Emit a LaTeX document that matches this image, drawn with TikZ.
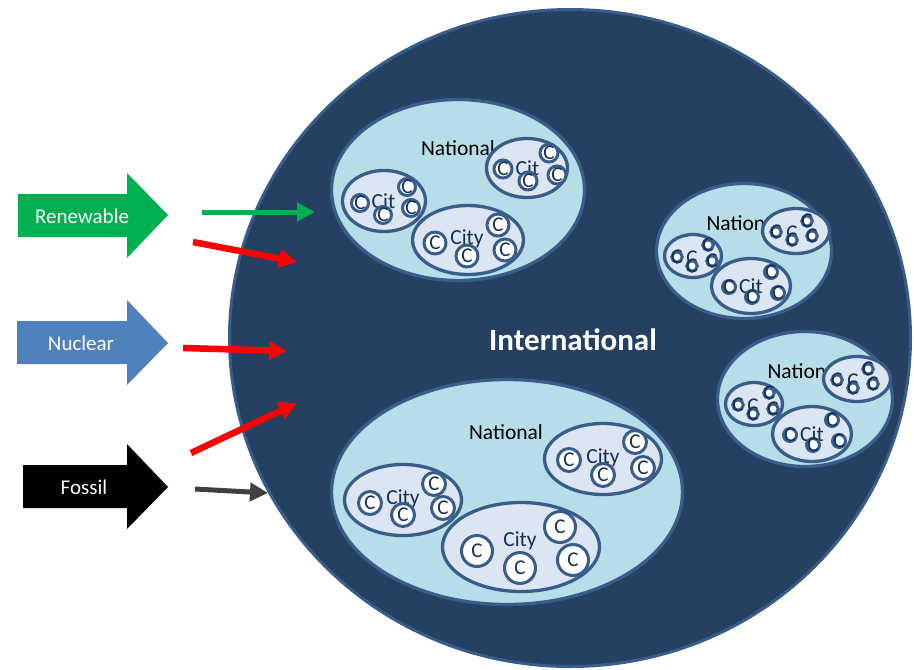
\documentclass[tikz,border=0pt]{standalone}
\usepackage{fontspec}
\setmainfont{Carlito}
\usetikzlibrary{shapes.geometric,arrows.meta}
\definecolor{bigfill}{RGB}{38,64,97}
\definecolor{bordc}{RGB}{56,93,138}
\definecolor{natfill}{RGB}{183,222,232}
\definecolor{cityfill}{RGB}{220,230,242}
\definecolor{navyt}{RGB}{20,48,86}
\definecolor{greenc}{RGB}{0,176,80}
\definecolor{nucc}{RGB}{79,129,189}
\definecolor{redc}{RGB}{255,0,0}
\definecolor{grayc}{RGB}{64,64,64}
\tikzset{
 intl/.style={ellipse, draw=bordc, fill=bigfill, line width=3pt, inner sep=0pt},
 natl/.style={ellipse, draw=bordc, fill=natfill, line width=3.3pt, inner sep=0pt},
 cityshape/.style={ellipse, draw=bordc, fill=cityfill, line width=3.3pt, inner sep=0pt},
 ccirc/.style={circle, draw=bordc, fill=white, line width=3pt, inner sep=0pt},
 ctxt/.style={inner sep=0pt, text=navyt, font=\fontsize{21}{25}\selectfont},
 natlbl/.style={anchor=base, inner sep=0pt, text=black, font=\fontsize{21.5}{25}\selectfont},
 citylbl/.style={anchor=base, inner sep=0pt, text=navyt, font=\fontsize{21.5}{25}\selectfont},
 blocklbl/.style={inner sep=0pt, text=white, font=\fontsize{21}{25}\selectfont},
 flow/.style={line width=5pt, -{Triangle[length=18pt,width=18pt]}},
}
\newcommand{\mkc}[4]{\node[ccirc, minimum size=#4pt] (#1) at (#2,#3) {}; \node[ctxt] (#1t) at (#1) {C};}
\newcommand{\smallnat}[1]{%
 \node[natl, minimum width=175pt, minimum height=135pt] (#1) at (744,251) {};
 \node[natlbl] (#1t) at (743.5,230) {National};
 \node[cityshape, minimum width=57pt, minimum height=43pt] (#1a) at (693,256) {};
 \node[ctxt] (#1at) at (692,258) {C};
 \mkc{#1a1}{677}{257}{10.5}\mkc{#1a2}{692}{266}{10.5}\mkc{#1a3}{708}{245}{10.5}\mkc{#1a4}{712}{261}{10.5}
 \node[cityshape, minimum width=67pt, minimum height=45pt] (#1b) at (796,231) {};
 \node[ctxt] (#1bt) at (792,233) {C};
 \mkc{#1b1}{776}{232}{10.5}\mkc{#1b2}{792}{240}{10.5}\mkc{#1b3}{807}{221}{10.5}\mkc{#1b4}{812}{236}{10.5}
 \node[cityshape, minimum width=79pt, minimum height=55pt] (#1c) at (751,286) {};
 \node[citylbl] (#1ct) at (751,293) {Cit};
 \mkc{#1c1}{729}{287}{13}\mkc{#1c2}{752}{297}{13}\mkc{#1c3}{771}{272}{13}\mkc{#1c4}{778}{293}{13}
}
\begin{document}
\begin{tikzpicture}[x=1pt,y=-1pt]
\useasboundingbox (0,0) rectangle (914,670);
% international
\node[intl, minimum width=681pt, minimum height=657pt] (intl) at (570,338) {};
\node[inner sep=0pt, text=white, font=\fontsize{31}{36}\selectfont\bfseries] (intlt) at (573,340) {International};
% national 1
\node[natl, minimum width=253pt, minimum height=181pt] (na) at (458,190) {};
\node[natlbl] (nat) at (458,155) {National};
\node[cityshape, minimum width=83pt, minimum height=61pt] (nab) at (384,201) {};
\node[citylbl] (nabt) at (383.5,208) {Cit};
\mkc{nab1}{360}{203}{17}\mkc{nab2}{383}{215}{17}\mkc{nab3}{407}{187}{17}\mkc{nab4}{411}{208}{17}
\node[cityshape, minimum width=81pt, minimum height=59pt] (naa) at (527,168) {};
\node[citylbl] (naat) at (527.5,175) {Cit};
\mkc{naa1}{503}{169}{18}\mkc{naa2}{528}{181}{18}\mkc{naa3}{549}{153}{18}\mkc{naa4}{557}{175}{18}
\node[cityshape, minimum width=111pt, minimum height=69pt] (nac) at (468,240) {};
\node[citylbl] (nact) at (467,244) {City};
\mkc{nac1}{435}{243}{22}\mkc{nac2}{467}{256}{22}\mkc{nac3}{498}{225}{22}\mkc{nac4}{505}{250}{22}
% national 2 and 3
\smallnat{nb}
\begin{scope}[shift={(61,148)}]
\smallnat{nc}
\end{scope}
% national 4
\node[natl, minimum width=351pt, minimum height=225pt] (nd) at (507,492) {};
\node[natlbl] (ndt) at (506,439) {National};
\node[cityshape, minimum width=117pt, minimum height=71pt] (nda) at (603,459) {};
\node[citylbl] (ndat) at (603,463) {City};
\mkc{nda1}{569}{460}{23}\mkc{nda2}{603}{475}{23}\mkc{nda3}{635}{442}{23}\mkc{nda4}{643}{468}{23}
\node[cityshape, minimum width=117pt, minimum height=71pt] (ndb) at (403,500) {};
\node[citylbl] (ndbt) at (403,504) {City};
\mkc{ndb1}{370}{503}{23}\mkc{ndb2}{403}{515}{23}\mkc{ndb3}{434}{484}{23}\mkc{ndb4}{443}{508}{23}
\node[cityshape, minimum width=157pt, minimum height=89pt] (ndc) at (521,547) {};
\node[citylbl] (ndct) at (520,546) {City};
\mkc{ndc1}{477}{551}{31}\mkc{ndc2}{520}{568}{31}\mkc{ndc3}{560}{527}{31}\mkc{ndc4}{573}{560}{31}
% block arrows
\fill[greenc] (18,194) -- (127,194) -- (127,173) -- (168,215) -- (127,258) -- (127,237) -- (18,237) -- cycle;
\node[blocklbl] (ren) at (82,216) {Renewable};
\fill[nucc] (17,321) -- (127,321) -- (127,300) -- (168,343) -- (127,385) -- (127,364) -- (17,364) -- cycle;
\node[blocklbl] (nuc) at (81,343) {Nuclear};
\fill[black] (23,465) -- (127,465) -- (127,444) -- (168,487) -- (127,529) -- (127,508) -- (23,508) -- cycle;
\node[blocklbl] (fos) at (84,487) {Fossil};
% flow arrows
\coordinate (g0) at (202,212); \coordinate (g1) at (315,212);
\coordinate (r10) at (193,242); \coordinate (r11) at (297,262);
\coordinate (r20) at (183,348); \coordinate (r21) at (287,351);
\coordinate (r30) at (191,453); \coordinate (r31) at (297,403);
\coordinate (k0) at (195,489); \coordinate (k1) at (268,493);
\draw[flow, greenc] (g0) -- (g1);
\draw[flow, redc, line width=6.5pt] (r10) -- (r11);
\draw[flow, redc, line width=6.5pt] (r20) -- (r21);
\draw[flow, redc, line width=6.5pt] (r30) -- (r31);
\draw[flow, grayc] (k0) -- (k1);
\end{tikzpicture}
\end{document}
